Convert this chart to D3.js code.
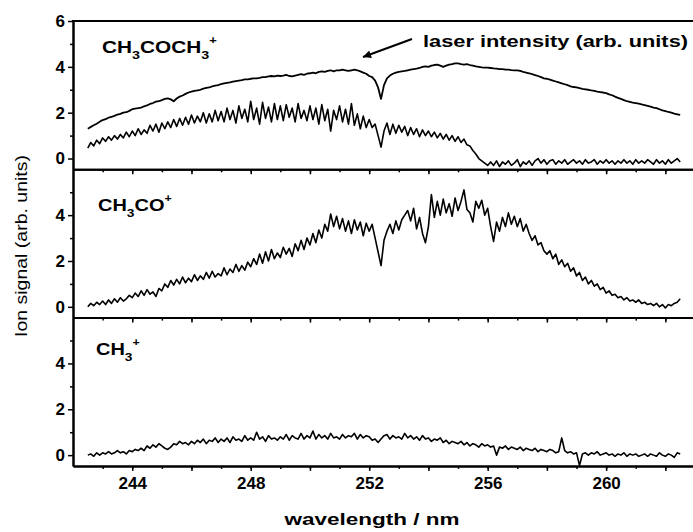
<!DOCTYPE html>
<html>
<head>
<meta charset="utf-8">
<script src="https://cdn.jsdelivr.net/npm/d3@7"></script>
<style>
  body { margin: 0; background: #fff; }
  text { font-family: "Liberation Sans", Arial, sans-serif; fill: #000; }
</style>
</head>
<body>
<div id="chart"></div>
<script>
// spectra sampled every 0.1 nm from 242.5 nm
var wlStart = 242.5,
    wlStep = 0.1;

// laser intensity (arb. units), drawn in the top panel
var laser = [
  1.3, 1.38, 1.45, 1.52, 1.6,
  1.68, 1.72, 1.78, 1.82, 1.86, 1.92, 1.95, 2.0, 2.02, 2.08,
  2.15, 2.18, 2.2, 2.22, 2.28, 2.32, 2.38, 2.42, 2.48, 2.5,
  2.55, 2.6, 2.62, 2.58, 2.5, 2.62, 2.7, 2.75, 2.82, 2.88,
  2.92, 2.95, 2.97, 3.0, 3.05, 3.08, 3.1, 3.15, 3.18, 3.2,
  3.25, 3.28, 3.3, 3.32, 3.35, 3.38, 3.4, 3.42, 3.45, 3.45,
  3.48, 3.5, 3.5, 3.52, 3.55, 3.55, 3.58, 3.6, 3.58, 3.62,
  3.6, 3.62, 3.65, 3.6, 3.58, 3.62, 3.65, 3.68, 3.65, 3.7,
  3.72, 3.75, 3.72, 3.78, 3.8, 3.78, 3.82, 3.85, 3.8, 3.85,
  3.85, 3.88, 3.85, 3.82, 3.85, 3.88, 3.85, 3.8, 3.75, 3.7,
  3.6, 3.55, 3.4, 3.1, 2.6, 3.2, 3.5, 3.62, 3.7, 3.75,
  3.78, 3.8, 3.82, 3.85, 3.88, 3.9, 3.92, 3.95, 4.0, 4.02,
  4.0, 4.05, 4.08, 4.1, 4.05, 4.0, 4.05, 4.1, 4.12, 4.15,
  4.15, 4.12, 4.1, 4.12, 4.08, 4.05, 4.02, 4.0, 3.98, 3.97,
  3.97, 3.95, 3.93, 3.92, 3.9, 3.9, 3.88, 3.88, 3.86, 3.85,
  3.85, 3.82, 3.78, 3.75, 3.72, 3.68, 3.64, 3.6, 3.55, 3.5,
  3.48, 3.44, 3.4, 3.36, 3.32, 3.28, 3.24, 3.2, 3.15, 3.12,
  3.1, 3.07, 3.04, 3.02, 3.0, 2.97, 2.95, 2.92, 2.9, 2.88,
  2.85, 2.8, 2.76, 2.7, 2.65, 2.6, 2.55, 2.5, 2.47, 2.44,
  2.42, 2.4, 2.36, 2.33, 2.3, 2.26, 2.22, 2.2, 2.15, 2.1,
  2.07, 2.03, 2.0, 1.96, 1.93, 1.9
];

// CH3COCH3+ ion signal
var acetone = [
  0.45, 0.7, 0.55, 0.8, 0.65,
  0.9, 0.75, 0.95, 0.8, 1.0, 0.85, 1.05, 0.9, 1.15, 0.95,
  1.2, 1.0, 1.3, 1.05, 1.25, 1.1, 1.45, 1.2, 1.5, 1.15,
  1.55, 1.3, 1.6, 1.35, 1.7, 1.4, 1.75, 1.45, 1.8, 1.5,
  1.9, 1.55, 1.85, 1.6, 2.0, 1.55, 1.95, 1.6, 2.1, 1.65,
  2.05, 1.6, 2.2, 1.7, 2.1, 1.55, 2.3, 1.75, 2.15, 1.6,
  2.5, 1.7, 2.2, 1.5, 2.45, 1.75, 2.25, 1.6, 2.4, 1.7,
  2.3, 1.65, 2.35, 1.8, 2.2, 1.6, 2.4, 1.75, 2.1, 1.65,
  2.3, 1.7, 2.2, 1.5, 2.35, 1.65, 2.15, 1.2, 2.1, 1.7,
  2.3, 1.6, 2.15, 1.5, 2.4, 1.45, 1.95, 1.3, 1.85, 1.35,
  1.7, 1.35, 1.5, 1.0, 0.5, 1.2, 1.55, 1.05, 1.5, 1.1,
  1.45, 1.15, 1.4, 1.0, 1.35, 1.05, 1.3, 0.95, 1.25, 1.0,
  1.2, 0.95, 1.15, 0.9, 1.1, 0.85, 1.05, 0.8, 1.0, 0.75,
  0.95, 0.7, 0.85, 0.6, 0.55, 0.35, 0.2, 0.0, -0.1, -0.2,
  -0.3, -0.15, -0.3, -0.1, -0.35, -0.15, -0.25, -0.1, -0.3, -0.2,
  -0.05, -0.35, -0.15, -0.25, -0.1, -0.3, -0.1, 0.0, -0.2, -0.05,
  -0.25, -0.1, -0.05, -0.25, -0.1, -0.2, -0.05, -0.25, -0.15, -0.05,
  -0.2, -0.1, -0.25, -0.05, -0.2, -0.15, -0.05, -0.25, -0.1, -0.2,
  -0.05, -0.2, -0.1, -0.25, -0.1, -0.2, -0.05, -0.2, -0.1, -0.25,
  -0.05, -0.2, -0.1, -0.2, -0.05, -0.15, -0.25, -0.05, -0.2, -0.1,
  -0.25, -0.05, -0.2, -0.1, 0.0, -0.15
];

// CH3CO+ ion signal
var acetyl = [
  0.0, 0.15, 0.05, 0.2, 0.1,
  0.25, 0.1, 0.3, 0.15, 0.35, 0.2, 0.4, 0.25, 0.35, 0.5,
  0.4, 0.6, 0.45, 0.7, 0.5, 0.75, 0.55, 0.65, 0.45, 0.8,
  0.7, 1.0, 0.85, 1.15, 0.95, 1.2, 1.0, 1.3, 1.05, 1.25,
  1.1, 1.4, 1.15, 1.35, 1.2, 1.5, 1.25, 1.55, 1.3, 1.45,
  1.35, 1.7, 1.4, 1.65, 1.5, 1.85, 1.55, 1.8, 1.6, 1.95,
  1.75, 2.1, 1.85, 2.3, 1.9, 2.4, 2.0, 2.5, 2.1, 2.35,
  2.15, 2.6, 2.3, 2.55, 2.2, 2.75, 2.45, 2.9, 2.5, 3.0,
  2.7, 3.2, 2.8, 3.35, 3.0, 3.6, 3.3, 4.05, 3.5, 3.95,
  3.4, 3.85, 3.3, 3.75, 3.2, 3.8, 3.35, 3.7, 3.1, 3.65,
  3.3, 3.6, 3.0, 2.4, 1.8, 2.9, 3.3, 3.6, 3.2, 3.75,
  3.35, 3.8, 4.0, 4.2, 3.75, 4.3, 3.4, 3.9, 3.2, 2.8,
  3.5, 4.9, 3.9, 4.6, 4.0, 4.7, 4.1, 4.5, 3.95, 4.75,
  4.2, 4.6, 5.1, 4.25, 4.1, 3.7, 4.6, 4.3, 4.65, 4.0,
  4.3, 3.5, 2.85, 3.7, 3.3, 3.9, 3.5, 4.1, 3.6, 3.95,
  3.5, 3.85, 3.3, 3.6, 3.2, 2.9, 3.1, 2.7, 2.8, 2.45,
  2.3, 2.45, 2.1, 2.3, 1.85, 2.05, 1.75, 1.9, 1.55, 1.7,
  1.35, 1.5, 1.15, 1.3, 1.0, 1.15, 0.9, 1.0, 0.75, 0.85,
  0.6, 0.7, 0.5, 0.55, 0.4, 0.45, 0.3, 0.4, 0.25, 0.3,
  0.2, 0.3, 0.15, 0.2, 0.1, 0.15, 0.05, 0.15, 0.0, 0.1,
  -0.05, 0.1, 0.05, 0.15, 0.2, 0.35
];

// CH3+ ion signal
var methyl = [
  0.0, 0.05, -0.05, 0.1, 0.0,
  0.1, 0.05, 0.15, 0.05, 0.1, 0.2, 0.1, 0.15, 0.05, 0.2,
  0.15, 0.25, 0.2, 0.3, 0.2, 0.4, 0.3, 0.45, 0.35, 0.5,
  0.4, 0.3, 0.25, 0.35, 0.5, 0.45, 0.6, 0.5, 0.55, 0.45,
  0.6, 0.5, 0.65, 0.55, 0.7, 0.5, 0.65, 0.6, 0.75, 0.55,
  0.7, 0.6, 0.75, 0.55, 0.8, 0.65, 0.7, 0.6, 0.85, 0.65,
  0.75, 0.65, 1.0, 0.7, 0.8, 0.6, 0.85, 0.7, 0.75, 0.65,
  0.8, 0.7, 0.9, 0.65, 0.85, 0.75, 0.7, 0.95, 0.7, 0.85,
  0.75, 1.05, 0.7, 0.9, 0.75, 0.85, 0.7, 0.95, 0.75, 0.8,
  0.7, 0.9, 0.75, 0.85, 0.8, 0.95, 0.7, 0.9, 0.75, 0.85,
  0.8, 0.65, 0.7, 0.55, 0.7, 0.85, 0.9, 0.7, 0.85, 0.75,
  0.8, 0.7, 0.95, 0.75, 0.85, 0.7, 0.8, 0.65, 0.85, 0.7,
  0.75, 0.6, 0.7, 0.65, 0.75, 0.55, 0.65, 0.5, 0.6, 0.55,
  0.5, 0.6, 0.45, 0.55, 0.4, 0.5, 0.45, 0.35, 0.5, 0.4,
  0.45, 0.35, 0.4, 0.0, 0.35, 0.3, 0.4, 0.25, 0.35, 0.3,
  0.25, 0.35, 0.2, 0.3, 0.25, 0.2, 0.3, 0.15, 0.25, 0.2,
  0.15, 0.25, 0.2, 0.1, 0.15, 0.75, 0.2, 0.1, 0.15, 0.05,
  0.1, -0.45, 0.05, 0.1, 0.0, 0.1, 0.05, 0.15, 0.0, 0.05,
  0.1, 0.0, 0.05, -0.05, 0.05, 0.0, 0.1, -0.05, 0.05, 0.0,
  0.05, -0.05, 0.0, 0.05, -0.05, 0.05, 0.0, -0.05, 0.1, 0.0,
  -0.05, 0.05, 0.0, -0.1, 0.1, 0.05
];

// panel names as [text, 0 normal | 1 subscript | 2 superscript]
var panelNames = [
  [["CH", 0], ["3", 1], ["COCH", 0], ["3", 1], ["+", 2]],
  [["CH", 0], ["3", 1], ["CO", 0], ["+", 2]],
  [["CH", 0], ["3", 1], ["+", 2]]
];
var panelSeries = [[acetone, laser], [acetyl], [methyl]];

var xMinorTicks = d3.range(243, 263),
    xMajorTicks = d3.range(244, 263, 2),
    xLabelTicks = [244, 248, 252, 256, 260];
var yMajorTicks = [[0, 2, 4, 6], [0, 2, 4], [0, 2, 4]],
    yMinorTicks = [1, 3, 5];

var xTitle = "wavelength / nm",
    yTitle = "Ion signal (arb. units)",
    laserNote = "laser intensity (arb. units)";

var width = 693, height = 532,
    panelTop = 21,
    panelH = 148.3,
    left = 73;

var svg = d3.select("#chart").append("svg")
    .attr("width", width)
    .attr("height", height);

var x = d3.scaleLinear()
    .domain([242, 263])
    .range([left, 695]);

var wl = function(d, i) { return x(wlStart + i * wlStep); };

function styleAxis(g) {
    g.select(".domain").attr("stroke", "#000").attr("stroke-width", 2);
    g.selectAll(".tick line").attr("stroke", "#000").attr("stroke-width", 1.5);
    g.selectAll(".tick text")
        .attr("font-family", "'Liberation Sans', Arial, sans-serif")
        .attr("font-size", 17)
        .attr("font-weight", "bold")
        .attr("fill", "#000");
}

// top frame line
svg.append("line")
    .attr("x1", left - 1).attr("x2", width)
    .attr("y1", panelTop).attr("y2", panelTop)
    .attr("stroke", "#000").attr("stroke-width", 2);

panelSeries.forEach(function(series, p) {
    var top = panelTop + p * panelH,
        bottom = top + panelH,
        last = p == panelSeries.length - 1;

    var y = d3.scaleLinear()
        .domain([-0.47, 6.0])
        .range([bottom, top]);

    var line = d3.line()
        .x(wl)
        .y(function(d) { return y(d); });

    var g = svg.append("g");

    series.forEach(function(s) {
        g.append("path")
            .datum(s)
            .attr("d", line)
            .attr("fill", "none")
            .attr("stroke", "#000")
            .attr("stroke-width", s === laser ? 1.8 : 1.6)
            .attr("stroke-linejoin", "round");
    });

    // x axis: minor ticks every nm, longer ones every 2 nm
    g.append("g")
        .attr("transform", "translate(0," + bottom + ")")
        .call(d3.axisBottom(x).tickValues(xMinorTicks).tickSize(3).tickSizeOuter(0).tickFormat(""))
        .call(styleAxis);
    g.append("g")
        .attr("transform", "translate(0," + bottom + ")")
        .call(d3.axisBottom(x).tickValues(xMajorTicks).tickSize(5).tickSizeOuter(0).tickPadding(6)
            .tickFormat(function(d) { return last && xLabelTicks.indexOf(d) > -1 ? d : ""; }))
        .call(styleAxis);

    // y axis
    g.append("g")
        .attr("transform", "translate(" + left + ",0)")
        .call(d3.axisLeft(y).tickValues(yMinorTicks).tickSize(3).tickSizeOuter(0).tickFormat(""))
        .call(styleAxis);
    g.append("g")
        .attr("transform", "translate(" + left + ",0)")
        .call(d3.axisLeft(y).tickValues(yMajorTicks[p]).tickSize(5).tickSizeOuter(0).tickPadding(3)
            .tickFormat(d3.format("d")))
        .call(styleAxis);

    // panel name with sub/superscripts, stretched to the original width
    var pos = [[102, 53, 115], [98, 211, 74], [96, 355, 44]][p];
    var name = g.append("text")
        .attr("font-size", 16)
        .attr("font-weight", "bold");
    var shift = 0;
    panelNames[p].forEach(function(part) {
        var target = part[1] == 1 ? 6 : part[1] == 2 ? -9 : 0;
        name.append("tspan")
            .attr("dy", target - shift)
            .attr("font-size", part[1] == 0 ? 16 : part[1] == 1 ? 11 : 10)
            .text(part[0]);
        shift = target;
    });
    var bw = name.node().getBBox().width;
    name.attr("transform", "translate(" + pos[0] + "," + pos[1] + ") scale(" + (pos[2] / bw) + ",1)");
});

// axis titles
svg.append("text")
    .attr("x", 372).attr("y", 525)
    .attr("text-anchor", "middle")
    .attr("font-size", 17)
    .attr("font-weight", "bold")
    .attr("textLength", 175)
    .attr("lengthAdjust", "spacingAndGlyphs")
    .text(xTitle);

svg.append("text")
    .attr("transform", "translate(27,246) rotate(-90)")
    .attr("text-anchor", "middle")
    .attr("font-size", 17)
    .attr("textLength", 182)
    .attr("lengthAdjust", "spacingAndGlyphs")
    .text(yTitle);

// laser annotation and arrow
svg.append("text")
    .attr("x", 423).attr("y", 47)
    .attr("font-size", 17)
    .attr("font-weight", "bold")
    .attr("textLength", 265)
    .attr("lengthAdjust", "spacingAndGlyphs")
    .text(laserNote);

svg.append("defs").append("marker")
    .attr("id", "head")
    .attr("viewBox", "0 0 10 10")
    .attr("refX", 10).attr("refY", 5)
    .attr("markerWidth", 14).attr("markerHeight", 8)
    .attr("markerUnits", "userSpaceOnUse")
    .attr("orient", "auto")
  .append("path")
    .attr("d", "M0,0L10,5L0,10z")
    .attr("fill", "#000");

svg.append("line")
    .attr("x1", 412).attr("y1", 39)
    .attr("x2", 363).attr("y2", 57)
    .attr("stroke", "#000")
    .attr("stroke-width", 2)
    .attr("marker-end", "url(#head)");
</script>
</body>
</html>
